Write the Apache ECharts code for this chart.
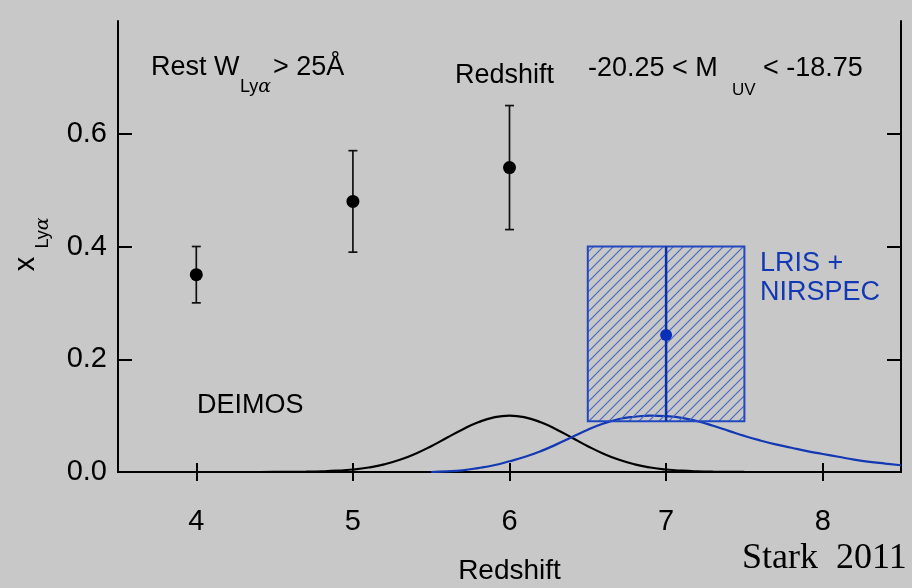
<!DOCTYPE html>
<html>
<head>
<meta charset="utf-8">
<title>Lyman-alpha fraction vs redshift</title>
<script src="https://cdn.jsdelivr.net/npm/echarts@6/dist/echarts.min.js"></script>
<style>
  html, body { margin: 0; padding: 0; background: #c8c8c8; }
  #chart { width: 912px; height: 588px; }
</style>
</head>
<body>
<div id="chart"></div>
<script>
// DEIMOS measurements: Lyα fraction with error bars
const deimosZ = [4, 5, 6];
const deimosFrac = [0.35, 0.48, 0.54];
const deimosLow = [0.30, 0.39, 0.43];
const deimosHigh = [0.40, 0.57, 0.65];

// LRIS + NIRSPEC constraint at z ~ 7 (box spans redshift range and allowed fraction)
const lrisZRange = [6.5, 7.5];
const lrisFracRange = [0.09, 0.40];
const lrisZ = 7;
const lrisFrac = 0.243;

// Redshift distributions (arbitrary scale)
const deimosCurveZ = [4.4, 4.5, 4.6, 4.7, 4.8, 4.9, 5.0, 5.1, 5.2, 5.3, 5.4, 5.5, 5.6, 5.7, 5.8, 5.9, 6.0,
  6.1, 6.2, 6.3, 6.4, 6.5, 6.6, 6.7, 6.8, 6.9, 7.0, 7.1, 7.2, 7.3, 7.4, 7.5, 7.6];
const deimosCurveY = [0.0000, 0.0001, 0.0002, 0.0005, 0.0011, 0.0023, 0.0044, 0.0080, 0.0135, 0.0216, 0.0325,
  0.0458, 0.0607, 0.0755, 0.0882, 0.0969, 0.1000, 0.0969, 0.0882, 0.0755, 0.0607, 0.0458, 0.0325, 0.0216,
  0.0135, 0.0080, 0.0044, 0.0023, 0.0011, 0.0005, 0.0002, 0.0001, 0.0000];
const lrisCurveZ = [5.5, 5.6, 5.7, 5.8, 5.9, 6.0, 6.1, 6.2, 6.3, 6.4, 6.5, 6.6, 6.7, 6.8, 6.9, 7.0, 7.1, 7.2,
  7.3, 7.4, 7.5, 7.6, 7.7, 7.8, 7.9, 8.0, 8.1, 8.2, 8.3, 8.4, 8.5];
const lrisCurveY = [0.000, 0.001, 0.003, 0.007, 0.012, 0.019, 0.027, 0.037, 0.049, 0.062, 0.075, 0.086, 0.094,
  0.098, 0.100, 0.099, 0.096, 0.090, 0.082, 0.073, 0.064, 0.056, 0.049, 0.043, 0.037, 0.032, 0.027, 0.022,
  0.018, 0.015, 0.012];

// Axis ticks
const zTicks = [4, 5, 6, 7, 8];
const fracTicks = [0, 0.2, 0.4, 0.6];

const BLUE = '#1238b4';
const SANS = '"Liberation Sans", Arial, Helvetica, sans-serif';

// Diagonal hatch tile for the LRIS box
function makeHatch() {
  const c = document.createElement('canvas');
  c.width = 10; c.height = 10;
  const g = c.getContext('2d');
  g.strokeStyle = '#4868c4';
  g.lineWidth = 1.2;
  g.beginPath();
  g.moveTo(-1, 11); g.lineTo(11, -1);
  g.moveTo(-1, 1); g.lineTo(1, -1);
  g.moveTo(9, 11); g.lineTo(11, 9);
  g.stroke();
  return c;
}
const hatch = makeHatch();

function zip(a, b) { return a.map((v, i) => [v, b[i]]); }

const chart = echarts.init(document.getElementById('chart'), null, { renderer: 'canvas' });

const axisLine = { show: true, lineStyle: { color: '#000', width: 2 } };

function txt(text, x, y, size, color, extra) {
  return {
    type: 'text', x: x, y: y, z: 100,
    style: Object.assign({
      text: text, fill: color || '#000',
      font: size + 'px ' + SANS,
      textAlign: 'left', textVerticalAlign: 'middle'
    }, extra || {})
  };
}

const lyaRich = {
  a: { fontSize: 18, fontFamily: SANS, fill: '#000' },
  b: { fontSize: 19, fontFamily: '"DejaVu Serif", serif', fontStyle: 'italic', fill: '#000' }
};

const option = {
  backgroundColor: '#c8c8c8',
  animation: false,
  grid: { left: 118, right: 11, top: 21, bottom: 116, outerBoundsMode: 'none', containLabel: false },
  xAxis: [
    {
      type: 'value', min: 3.5, max: 8.5, position: 'bottom',
      axisLine: axisLine,
      axisTick: { show: true, inside: true, length: 9, customValues: zTicks, lineStyle: { color: '#000', width: 2 } },
      axisLabel: { show: true, customValues: zTicks, margin: 35, fontSize: 29, color: '#000', fontFamily: SANS,
        formatter: v => String(v) },
      splitLine: { show: false },
      name: 'Redshift', nameLocation: 'middle', nameGap: 85,
      nameTextStyle: { fontSize: 28, color: '#000', fontFamily: SANS, verticalAlign: 'top' }
    },
    {
      type: 'value', min: 3.5, max: 8.5, position: 'top',
      axisLine: axisLine,
      axisTick: { show: true, inside: true, length: 9, customValues: zTicks, lineStyle: { color: '#000', width: 2 } },
      axisLabel: { show: false },
      splitLine: { show: false }
    }
  ],
  yAxis: [
    {
      type: 'value', min: 0, max: 0.8, position: 'left',
      axisLine: axisLine,
      axisTick: { show: true, inside: true, length: 14, customValues: fracTicks, lineStyle: { color: '#000', width: 2 } },
      axisLabel: { show: true, customValues: fracTicks, margin: 11, fontSize: 29, color: '#000', fontFamily: SANS,
        formatter: v => v.toFixed(1) },
      splitLine: { show: false }
    },
    {
      type: 'value', min: 0, max: 0.8, position: 'right',
      axisLine: axisLine,
      axisTick: { show: true, inside: true, length: 14, customValues: fracTicks, lineStyle: { color: '#000', width: 2 } },
      axisLabel: { show: false },
      splitLine: { show: false }
    }
  ],
  series: [
    {
      name: 'DEIMOS N(z)', type: 'line', smooth: true, showSymbol: false,
      data: zip(deimosCurveZ, deimosCurveY),
      lineStyle: { color: '#000', width: 2.2 }, z: 3
    },
    {
      name: 'LRIS N(z)', type: 'line', smooth: true, showSymbol: false,
      data: zip(lrisCurveZ, lrisCurveY),
      lineStyle: { color: BLUE, width: 2.2 }, z: 3
    },
    {
      name: 'LRIS + NIRSPEC', type: 'custom', z: 4,
      data: [[lrisZRange[0], lrisZRange[1], lrisFracRange[0], lrisFracRange[1], lrisZ, lrisFrac]],
      renderItem: function (params, api) {
        const p0 = api.coord([api.value(0), api.value(2)]);
        const p1 = api.coord([api.value(1), api.value(3)]);
        const pc = api.coord([api.value(4), api.value(5)]);
        return {
          type: 'group',
          children: [
            { type: 'rect', shape: { x: p0[0], y: p1[1], width: p1[0] - p0[0], height: p0[1] - p1[1] },
              style: { fill: { image: hatch, repeat: 'repeat' }, stroke: '#2248c0', lineWidth: 2 } },
            { type: 'line', shape: { x1: pc[0], y1: p0[1], x2: pc[0], y2: p1[1] },
              style: { stroke: '#0a2fa8', lineWidth: 2.5 } },
            { type: 'circle', shape: { cx: pc[0], cy: pc[1], r: 6 }, style: { fill: '#0a2fb8' } }
          ]
        };
      }
    },
    {
      name: 'DEIMOS', type: 'custom', z: 5,
      data: deimosZ.map((z, i) => [z, deimosFrac[i], deimosLow[i], deimosHigh[i]]),
      renderItem: function (params, api) {
        const pc = api.coord([api.value(0), api.value(1)]);
        const pl = api.coord([api.value(0), api.value(2)]);
        const ph = api.coord([api.value(0), api.value(3)]);
        const cap = 4.5;
        const ls = { stroke: '#111', lineWidth: 1.7 };
        return {
          type: 'group',
          children: [
            { type: 'line', shape: { x1: pc[0], y1: pl[1], x2: pc[0], y2: ph[1] }, style: ls },
            { type: 'line', shape: { x1: pc[0] - cap, y1: pl[1], x2: pc[0] + cap, y2: pl[1] }, style: ls },
            { type: 'line', shape: { x1: pc[0] - cap, y1: ph[1], x2: pc[0] + cap, y2: ph[1] }, style: ls },
            { type: 'circle', shape: { cx: pc[0], cy: pc[1], r: 6.5 }, style: { fill: '#000' } }
          ]
        };
      }
    }
  ],
  graphic: [
    // y-axis title: x with subscript Lyα, reading upward
    Object.assign(txt('x', 26, 264, 29, '#000', { textAlign: 'center' }), { rotation: Math.PI / 2 }),
    {
      type: 'text', x: 43, y: 233, z: 100, rotation: Math.PI / 2,
      style: { text: '{a|Ly}{b|α}', textAlign: 'center', textVerticalAlign: 'middle', rich: lyaRich }
    },
    // annotations inside the plot
    txt('Rest W', 151, 68, 27),
    { type: 'text', x: 240, y: 87, z: 100,
      style: { text: '{a|Ly}{b|α}', textAlign: 'left', textVerticalAlign: 'middle', rich: lyaRich } },
    txt('> 25Å', 273, 68, 27),
    txt('Redshift', 455, 76, 27),
    txt('-20.25 < M', 588, 69, 27),
    txt('UV', 732, 90, 17),
    txt('< -18.75', 763, 69, 27),
    txt('DEIMOS', 197, 406, 27),
    txt('LRIS +', 760, 264, 27, BLUE),
    txt('NIRSPEC', 760, 293, 27, BLUE),
    { type: 'text', x: 742, y: 559, z: 100,
      style: { text: 'Stark  2011', fill: '#000', font: '36px "Liberation Serif", "Times New Roman", serif',
        textAlign: 'left', textVerticalAlign: 'middle' } }
  ]
};

chart.setOption(option);
</script>
</body>
</html>
